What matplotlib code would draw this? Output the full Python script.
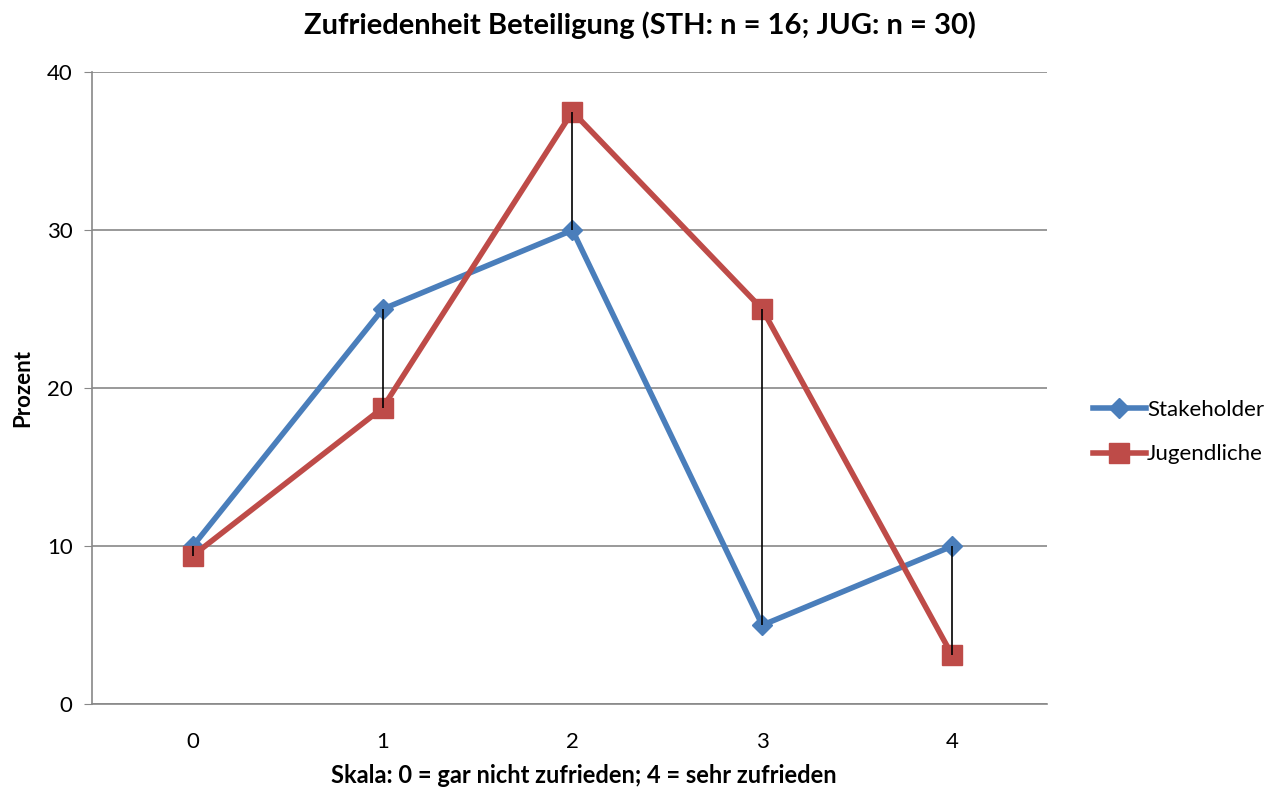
import matplotlib.pyplot as plt

plt.rcParams['font.family'] = ['Lato', 'DejaVu Sans']

skala = [0, 1, 2, 3, 4]
stakeholder = [10, 25, 30, 5, 10]
jugendliche = [9.4, 18.75, 37.5, 25, 3.1]

fig = plt.figure(figsize=(12.8, 7.93), dpi=100)
ax = fig.add_axes([0.072, 0.112, 0.746, 0.797])

x = list(range(len(skala)))
ax.plot(x, stakeholder, color='#4a7ebb', lw=4, marker='D', ms=10,
        label='Stakeholder', zorder=3)
ax.plot(x, jugendliche, color='#be4b48', lw=4, marker='s', ms=15,
        label='Jugendliche', zorder=3)
# high-low lines
ax.vlines(x, [min(a, b) for a, b in zip(stakeholder, jugendliche)],
          [max(a, b) for a, b in zip(stakeholder, jugendliche)],
          color='black', lw=1.2, zorder=4)

ax.set_xlim(-0.53, 4.5)
ax.set_ylim(0, 40)
ax.set_yticks([0, 10, 20, 30, 40])
ax.set_xticks(x)
ax.set_xticklabels([str(s) for s in skala])
ax.grid(axis='y', color='#888888', lw=1.2)
ax.set_axisbelow(True)
for s in ['top', 'right']:
    ax.spines[s].set_visible(False)
for s in ['left', 'bottom']:
    ax.spines[s].set_color('#888888')
    ax.spines[s].set_linewidth(1.2)
ax.tick_params(axis='x', length=0, labelsize=16, pad=20)
ax.tick_params(axis='y', length=6, color='#888888', labelsize=16, pad=8)

fig.suptitle('Zufriedenheit Beteiligung (STH: n = 16; JUG: n = 30)',
             x=0.5, y=0.985, fontsize=21, fontweight='bold')
ax.set_xlabel('Skala: 0 = gar nicht zufrieden; 4 = sehr zufrieden',
              fontsize=17, fontweight='bold', labelpad=12)
ax.set_ylabel('Prozent', fontsize=16, fontweight='bold', labelpad=10)
ax.xaxis.set_label_coords(0.515, -0.095)

fig.legend(loc='center left', bbox_to_anchor=(0.838, 0.455), frameon=False,
           fontsize=16, handlelength=2.4, handletextpad=0.05, labelspacing=1.1)

fig.savefig('out.png', dpi=100)
